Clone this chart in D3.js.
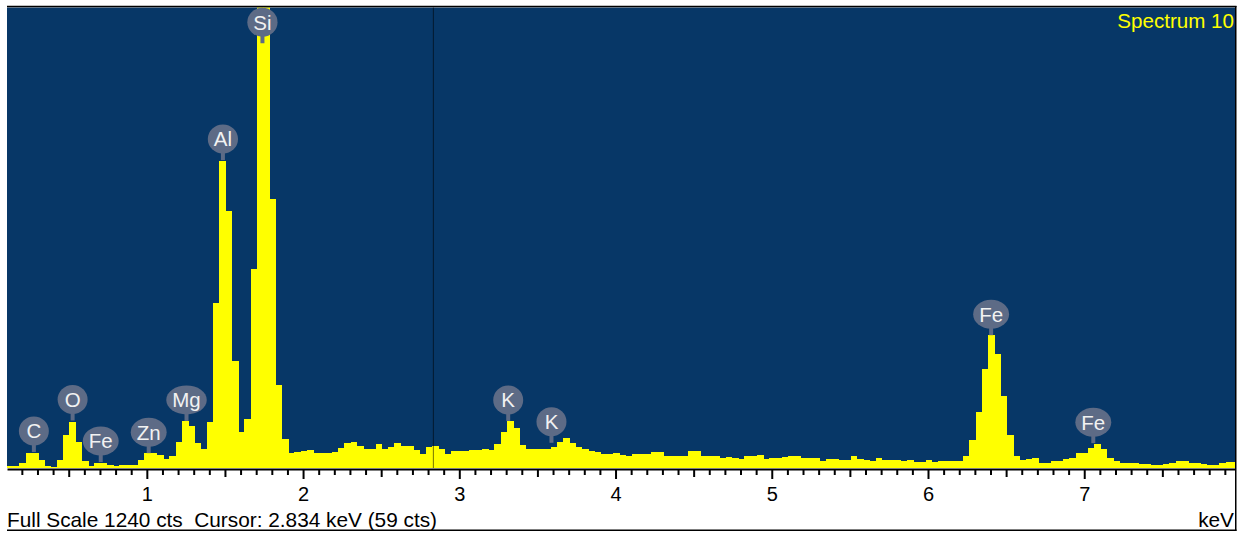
<!DOCTYPE html>
<html>
<head>
<meta charset="utf-8">
<script src="https://cdn.jsdelivr.net/npm/d3@7"></script>
<style>
  html, body { margin: 0; padding: 0; background: #ffffff; }
  svg { display: block; font-family: "Liberation Sans", Arial, sans-serif; }
</style>
</head>
<body>
<svg id="chart" width="1244" height="533"></svg>
<script>
// ---- Data ----
const energyStart = 0.105;   // keV, left edge of first channel
const binWidth = 0.04;       // keV per channel
const counts = [
  6, 6, 13, 41, 41, 22, 6, 4, 22, 89,
  125, 71, 19, 5, 13, 13, 8, 5, 7, 8,
  9, 22, 40, 40, 35, 23, 32, 71, 127, 113,
  68, 51, 125, 445, 827, 693, 288, 98, 131, 536,
  1350, 1300, 725, 224, 77, 41, 44, 46, 48, 41,
  41, 40, 44, 55, 67, 71, 60, 50, 50, 65,
  51, 57, 68, 60, 60, 48, 38, 57, 59, 51,
  38, 46, 45, 47, 48, 48, 50, 49, 65, 96,
  127, 109, 62, 50, 50, 51, 50, 57, 70, 82,
  68, 57, 51, 47, 44, 38, 38, 40, 36, 32,
  38, 38, 38, 44, 44, 32, 32, 32, 32, 47,
  47, 32, 32, 32, 26, 30, 28, 24, 32, 32,
  35, 24, 26, 26, 29, 32, 32, 26, 26, 26,
  19, 24, 24, 22, 22, 32, 24, 22, 19, 26,
  22, 22, 22, 19, 22, 17, 17, 22, 17, 19,
  20, 20, 20, 32, 75, 152, 267, 358, 307, 194,
  88, 32, 22, 23, 26, 14, 14, 20, 20, 23,
  28, 40, 40, 55, 65, 51, 26, 19, 14, 13,
  13, 10, 11, 9, 9, 11, 14, 20, 20, 14,
  14, 11, 9, 9, 14, 17, 17
];
const majorTicks = [1, 2, 3, 4, 5, 6, 7];
const midTicks = [0.5, 1.5, 2.5, 3.5, 4.5, 5.5, 6.5, 7.5];
const minorTicks = d3.range(2, 80).map(d => d / 10);
const labelNames = ["C", "O", "Fe", "Zn", "Mg", "Al", "Si", "K", "K", "Fe", "Fe"];
const labelEnergy = [0.277, 0.525, 0.705, 1.012, 1.254, 1.487, 1.740, 3.313, 3.590, 6.404, 7.058];
const labelCounts = [43, 128, 16, 40, 127, 830, 1145, 127, 68, 358, 67];
const fullScale = 1240;
const cursorKeV = 2.834;
const cursorCounts = 59;
const spectrumTitle = "Spectrum 10";

// ---- Layout ----
const L = 7, R = 1235, T = 7.5, B = 468;
const svg = d3.select("#chart");

const x = d3.scaleLinear().domain([0.105, 7.965]).range([L, R]);
const y = d3.scaleLinear().domain([0, fullScale]).range([B, T + 0.5]);

// background
svg.append("rect").attr("x", L).attr("y", T).attr("width", R - L).attr("height", B - T)
  .attr("fill", "#073767");

svg.append("defs").append("clipPath").attr("id", "plotclip")
  .append("rect").attr("x", L).attr("y", T).attr("width", R - L).attr("height", B - T);

const bins = counts.map((c, i) => ({ e0: energyStart + i * binWidth, e1: energyStart + (i + 1) * binWidth, c }));

svg.append("g").attr("clip-path", "url(#plotclip)")
  .selectAll("rect").data(bins).join("rect")
  .attr("x", d => x(d.e0))
  .attr("width", d => x(d.e1) - x(d.e0) + 0.4)
  .attr("y", d => y(d.c))
  .attr("height", d => B - y(d.c))
  .attr("fill", "#ffff00")
  .attr("shape-rendering", "crispEdges");

// cursor line
svg.append("line")
  .attr("x1", x(cursorKeV)).attr("x2", x(cursorKeV))
  .attr("y1", T).attr("y2", B)
  .attr("stroke", "#000").attr("stroke-opacity", 0.55).attr("stroke-width", 1);

// element labels
const lab = svg.append("g").attr("clip-path", "url(#plotclip)");
labelNames.forEach((name, i) => {
  const cx = x(labelEnergy[i]);
  const base = y(labelCounts[i]);
  const stem = 7, ry = 14.5;
  const cy = base - stem - ry;
  const g = lab.append("g");
  g.append("rect").attr("x", cx - 2).attr("y", base - stem - 1).attr("width", 4).attr("height", stem + 1)
    .attr("fill", "#5d6b86");
  const el = g.append("ellipse").attr("cx", cx).attr("cy", cy + 0.5).attr("ry", ry).attr("fill", "#5d6b86");
  const t = g.append("text").attr("x", cx).attr("y", cy + 0.5).attr("dy", "0.36em")
    .attr("text-anchor", "middle").attr("fill", "#f2f2f2").attr("font-size", 20.5).text(name);
  const tw = t.node().getComputedTextLength();
  el.attr("rx", Math.max(15, tw / 2 + 6));
});

// spectrum title
svg.append("text").attr("x", R - 1).attr("y", 28).attr("text-anchor", "end")
  .attr("fill", "#ffff00").attr("font-size", 20.6).text(spectrumTitle);

// axes
const axMinor = d3.axisBottom(x).tickValues(minorTicks.filter(v => Math.abs(v * 2 - Math.round(v * 2)) > 1e-6))
  .tickSize(6).tickSizeOuter(0).tickFormat("");
const axMid = d3.axisBottom(x).tickValues(midTicks)
  .tickSize(8).tickSizeOuter(0).tickFormat("");
const axMajor = d3.axisBottom(x).tickValues(majorTicks).tickSize(10).tickSizeOuter(0)
  .tickPadding(8).tickFormat(d3.format("d"));

[axMinor, axMid, axMajor].forEach((ax, i) => {
  const g = svg.append("g").attr("transform", `translate(0,${B + 1})`).call(ax);
  g.selectAll(".tick line").attr("stroke", "#000").attr("stroke-width", 2);
  g.select(".domain").attr("stroke", i === 2 ? "#000" : "none").attr("stroke-width", 2);
  g.selectAll("text").attr("font-size", 20).attr("fill", "#000")
    .attr("font-family", "Liberation Sans, Arial, sans-serif");
});

// frame lines
svg.append("line").attr("x1", L).attr("x2", R + 1.5).attr("y1", 6.5).attr("y2", 6.5)
  .attr("stroke", "#000").attr("stroke-width", 1.5);
svg.append("line").attr("x1", R + 0.75).attr("x2", R + 0.75).attr("y1", 6).attr("y2", 531)
  .attr("stroke", "#000").attr("stroke-width", 1.5);
svg.append("line").attr("x1", L).attr("x2", R + 1.5).attr("y1", 530.2).attr("y2", 530.2)
  .attr("stroke", "#000").attr("stroke-width", 1.5);

// footer texts
svg.append("text").attr("x", L).attr("y", 527).attr("font-size", 20.8).attr("fill", "#000")
  .attr("xml:space", "preserve").style("white-space", "pre")
  .text(`Full Scale ${fullScale} cts  Cursor: ${cursorKeV.toFixed(3)} keV (${cursorCounts} cts)`);
svg.append("text").attr("x", R - 1).attr("y", 527).attr("text-anchor", "end")
  .attr("font-size", 20.8).attr("fill", "#000").text("keV");
</script>
</body>
</html>
